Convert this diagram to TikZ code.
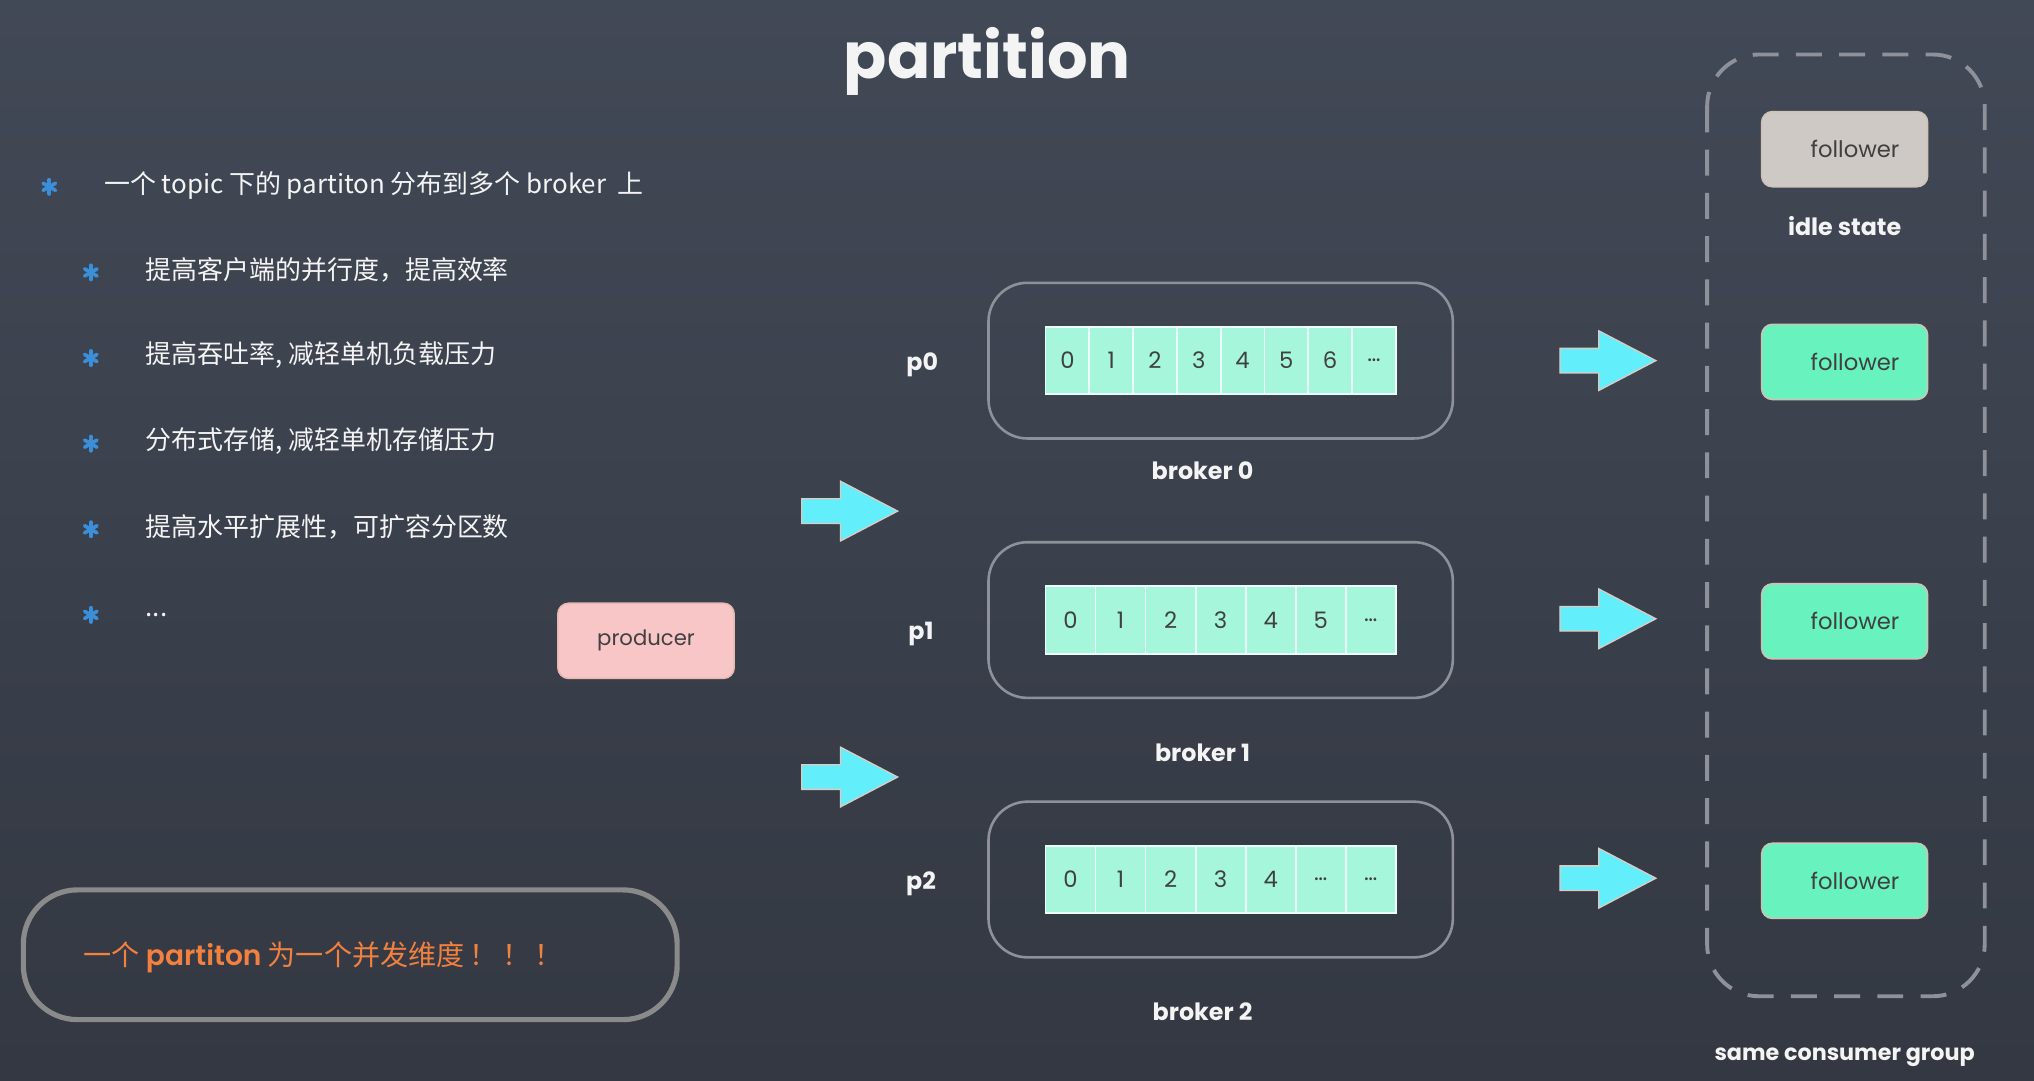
\documentclass[tikz,border=0pt]{standalone}
\usepackage{fontspec}
\setmainfont{Poppins}
\newfontfamily\cjk{Noto Sans CJK SC}
\usetikzlibrary{calc}

\definecolor{boardtop}{HTML}{424956}
\definecolor{boardbot}{HTML}{333842}
\definecolor{chalk}{HTML}{F4F4F4}
\definecolor{bulletblue}{HTML}{3B8FD9}
\definecolor{pinkfill}{HTML}{F8C6C6}
\definecolor{pinkedge}{HTML}{E6B8B2}
\definecolor{greenfill}{HTML}{68F2BE}
\definecolor{idlefill}{HTML}{CEC9C5}
\definecolor{boxedge}{HTML}{CFC3B8}
\definecolor{cellgreen}{HTML}{A5F6DA}
\definecolor{arrowcyan}{HTML}{62EEFA}
\definecolor{arrowedge}{HTML}{DCCCC4}
\definecolor{frame}{HTML}{8E9199}
\definecolor{noteedge}{HTML}{8A8A8A}
\definecolor{noteorange}{HTML}{F2803F}
\definecolor{ink}{HTML}{404040}

\begin{document}
\begin{tikzpicture}[x=0.6pt,y=-0.6pt,
  chalktext/.style={text=chalk,font=\bfseries\fontsize{11}{11}\selectfont},
  bullettext/.style={anchor=west,text=chalk,font=\cjk\fontsize{12}{12}\selectfont,inner sep=0pt},
  smallbox/.style={rounded corners=5pt,draw=boxedge,line width=0.7pt,text=ink,
    minimum height=34.8pt,inner sep=0pt,font=\fontsize{10.5}{10.5}\selectfont},
  followerbox/.style={smallbox,fill=greenfill,minimum width=76.8pt},
  idlebox/.style={smallbox,fill=idlefill,minimum width=76.8pt},
  producerbox/.style={smallbox,fill=pinkfill,draw=pinkedge,minimum width=81.6pt,
    font=\fontsize{9.8}{9.8}\selectfont},
  brokerbox/.style={draw=frame,line width=1.2pt,rounded corners=18pt,
    minimum width=214.8pt,minimum height=72pt,inner sep=0pt},
  cell/.style={draw=white!80!cellgreen,line width=0.8pt,fill=cellgreen,inner sep=0pt,
    minimum height=31.2pt,text=ink,font=\fontsize{10.5}{10.5}\selectfont},
  asterisk/.pic={\foreach \a in {90,30,150}
      {\draw[bulletblue,line width=1.7pt,line cap=round] (\a:5.5) -- (\a+180:5.5);}},
  bigarrow/.pic={\filldraw[fill=arrowcyan,draw=arrowedge,line width=0.6pt,line join=miter]
      (-37,-9.5) -- (-7,-9.5) -- (-7,-23) -- (37,0) -- (-7,23) -- (-7,9.5) -- (-37,9.5) -- cycle;}
]
\useasboundingbox (0,0) rectangle (1568,833);
\shade[top color=boardtop,bottom color=boardbot] (0,0) rectangle (1568,833);

% title
\node[text=chalk,font=\bfseries\fontsize{29.5}{29.5}\selectfont] (title) at (761,47) {partition};

% bullet list
\pic at (38,144) {asterisk};
\node[bullettext] (b1) at (80,143) {一个 topic 下的 partiton 分布到多个 broker\ \ 上};
\pic at (70,210) {asterisk};
\node[bullettext] (b2) at (112,208) {提高客户端的并行度，提高效率};
\pic at (70,276) {asterisk};
\node[bullettext] (b3) at (112,274) {提高吞吐率, 减轻单机负载压力};
\pic at (70,342) {asterisk};
\node[bullettext] (b4) at (112,340) {分布式存储, 减轻单机存储压力};
\pic at (70,408) {asterisk};
\node[bullettext] (b5) at (112,406) {提高水平扩展性，可扩容分区数};
\pic at (70,474) {asterisk};
\node[bullettext] (b6) at (112,474) {...};

% producer
\node[producerbox] (producer) at (498,494) {producer};

% arrows from the producer side into the brokers
\pic at (655,394) {bigarrow};
\pic at (655,599) {bigarrow};

% brokers with their partition logs
\node[brokerbox] (broker0) at (941,278) {};
\node[brokerbox] (broker1) at (941,478) {};
\node[brokerbox] (broker2) at (941,678) {};

\foreach \lbl [count=\i] in {0,1,2,3,4,5,6,\dots}
  \node[cell,minimum width=20.25pt] (pa\i) at ({806+(\i-0.5)*33.75},278) {\lbl};
\foreach \lbl [count=\i] in {0,1,2,3,4,5,\dots}
  \node[cell,minimum width=23.14pt] (pb\i) at ({806+(\i-0.5)*38.57},478) {\lbl};
\foreach \lbl [count=\i] in {0,1,2,3,4,\dots,\dots}
  \node[cell,minimum width=23.14pt] (pc\i) at ({806+(\i-0.5)*38.57},678) {\lbl};

\node[chalktext] (p0) at (711,281) {p0};
\node[chalktext] (p1) at (710,489) {p1};
\node[chalktext] (p2) at (710,681) {p2};

\node[chalktext] (bl0) at (927,363) {broker 0};
\node[chalktext] (bl1) at (927,580) {broker 1};
\node[chalktext] (bl2) at (927,780) {broker 2};

% arrows towards the consumers
\pic at (1239.5,278) {bigarrow};
\pic at (1239.5,477) {bigarrow};
\pic at (1239.5,677) {bigarrow};

% consumer group
\draw[frame,line width=1.8pt,dash pattern=on 12pt off 8pt,rounded corners=24pt]
  (1316,42) rectangle (1530,768);
\node[idlebox] (f0) at (1422,115) {\hspace*{9.6pt}follower};
\node[chalktext] (idle) at (1422,174) {idle state};
\node[followerbox] (f1) at (1422,279) {\hspace*{9.6pt}follower};
\node[followerbox] (f2) at (1422,479) {\hspace*{9.6pt}follower};
\node[followerbox] (f3) at (1422,679) {\hspace*{9.6pt}follower};
\node[text=chalk,font=\bfseries\fontsize{10.3}{10.3}\selectfont] (group) at (1422,815) {same consumer group};

% note box
\draw[noteedge,line width=2.4pt,rounded corners=25pt] (18,686) rectangle (522,786);
\node[anchor=west,text=noteorange,inner sep=0pt] (note) at (64,738)
  {\cjk\fontsize{13}{13}\selectfont 一个 {\fontspec{Poppins SemiBold}partiton} 为一个并发维度\,！\,！\,！};
\end{tikzpicture}
\end{document}
